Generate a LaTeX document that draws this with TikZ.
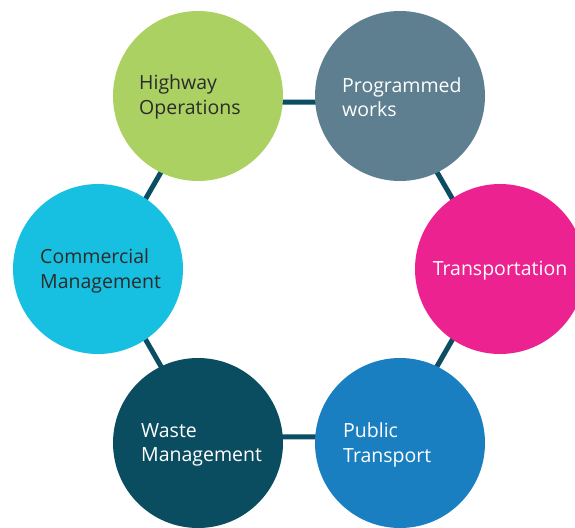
\documentclass[tikz,border=0pt]{standalone}
\usepackage{fontspec}
\setmainfont{Open Sans}
\usetikzlibrary{calc,backgrounds}
\definecolor{ring}{HTML}{0B4E62}
\definecolor{cHigh}{HTML}{ACD163}
\definecolor{cProg}{HTML}{5E7F8F}
\definecolor{cTrans}{HTML}{EC2290}
\definecolor{cPub}{HTML}{1A7FC0}
\definecolor{cWaste}{HTML}{0A4D60}
\definecolor{cComm}{HTML}{17BFE0}
\definecolor{darktxt}{HTML}{2B2B2B}
\begin{document}
\begin{tikzpicture}[x=1pt,y=-1pt,
  bubble/.style={circle,minimum size=170pt,inner sep=0pt,draw=none},
  link/.style={draw=ring,line width=5pt},
  lbl/.style={align=left,inner sep=0pt,font=\fontsize{19.5}{24.5}\selectfont}]
\useasboundingbox (0,0) rectangle (575,527);
\coordinate (o) at (299,269);
\node[bubble,fill=cHigh] (h) at (198,96) {};
\node[bubble,fill=cProg] (p) at (400,96) {};
\node[bubble,fill=cTrans] (t) at (500,269) {};
\node[bubble,fill=cPub] (u) at (400,443) {};
\node[bubble,fill=cWaste] (w) at (198,443) {};
\node[bubble,fill=cComm] (c) at (98,269) {};
\begin{scope}[on background layer]
\draw[link] ($(h)!0.035!(o)$) -- ($(p)!0.035!(o)$) -- ($(t)!0.035!(o)$) -- ($(u)!0.035!(o)$) -- ($(w)!0.035!(o)$) -- ($(c)!0.035!(o)$) -- cycle;
\end{scope}
\node[lbl,anchor=west,text=darktxt] (ht) at (139,97) {Highway\\Operations};
\node[lbl,anchor=west,text=white] (pt) at (342,97) {Programmed\\works};
\node[lbl,anchor=center,text=white] (tt) at (500,271) {Transportation};
\node[lbl,anchor=west,text=white] (ut) at (343,445) {Public\\Transport};
\node[lbl,anchor=west,text=white] (wt) at (141,445) {Waste\\Management};
\node[lbl,anchor=west,text=darktxt] (ct) at (40,271) {Commercial\\Management};
\end{tikzpicture}
\end{document}
